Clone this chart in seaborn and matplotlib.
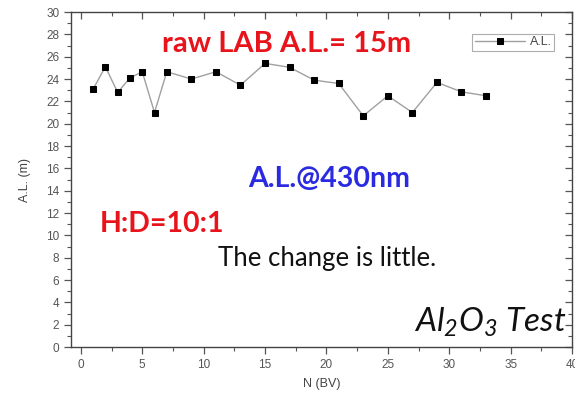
import matplotlib
matplotlib.use("Agg")
import matplotlib.pyplot as plt
from matplotlib.ticker import MultipleLocator
import numpy as np
import pandas as pd
import seaborn as sns

# Attenuation length measured against bed volumes
bed_volumes = [1, 2, 3, 4, 5, 6, 7, 9, 11, 13, 15, 17, 19, 21, 23, 25, 27, 29, 31, 33]
atten_length = [23.1, 25.1, 22.8, 24.1, 24.65, 21.0, 24.65, 24.0, 24.65, 23.45,
                25.4, 25.05, 23.9, 23.6, 20.7, 22.5, 21.0, 23.7, 22.85, 22.5]

df = pd.DataFrame({"N (BV)": bed_volumes, "A.L. (m)": atten_length})

sns.set_theme(style="white")
plt.rcParams["font.family"] = ["Liberation Sans", "DejaVu Sans"]
plt.rcParams["mathtext.default"] = "regular"

fig = plt.figure(figsize=(5.75, 3.98), dpi=100)
ax = fig.add_axes([0.1235, 0.128, 0.8713, 0.8418])

sns.lineplot(data=df, x="N (BV)", y="A.L. (m)", ax=ax, color="#a0a0a0",
             linewidth=1.0, marker="s", markersize=5, markerfacecolor="black",
             markeredgecolor="black", label="A.L.")

ax.set_xlim(-0.8, 40)
ax.set_ylim(0, 30)
ax.xaxis.set_major_locator(MultipleLocator(5))
ax.xaxis.set_minor_locator(MultipleLocator(2.5))
ax.yaxis.set_major_locator(MultipleLocator(2))
ax.yaxis.set_minor_locator(MultipleLocator(1))

axis_grey = "#555555"
for s in ax.spines.values():
    s.set_color("#444444")
    s.set_linewidth(1.0)
ax.tick_params(which="both", direction="out", colors=axis_grey, labelsize=8.5,
               bottom=True, left=True, top=False, right=False)
ax.tick_params(which="major", length=5, width=0.9)
ax.tick_params(which="minor", length=3, width=0.8)

# Mirrored inward ticks on the top and right edges
top = ax.secondary_xaxis("top")
top.xaxis.set_major_locator(MultipleLocator(5))
top.xaxis.set_minor_locator(MultipleLocator(2.5))
top.tick_params(which="both", direction="in", labeltop=False, colors=axis_grey)
top.tick_params(which="major", length=5, width=0.9)
top.tick_params(which="minor", length=3, width=0.8)
top.spines["top"].set_visible(False)
right = ax.secondary_yaxis("right")
right.yaxis.set_major_locator(MultipleLocator(2))
right.yaxis.set_minor_locator(MultipleLocator(1))
right.tick_params(which="both", direction="in", labelright=False, colors=axis_grey)
right.tick_params(which="major", length=5, width=0.9)
right.tick_params(which="minor", length=3, width=0.8)
right.spines["right"].set_visible(False)

ax.set_xlabel("N (BV)", fontsize=9, color="#444444", labelpad=5)
ax.set_ylabel("A.L. (m)", fontsize=9, color="#444444", labelpad=11)

leg = ax.legend(loc="upper right", bbox_to_anchor=(0.965, 0.935), fontsize=9,
                frameon=True, fancybox=False, handlelength=4.0, handletextpad=0.4,
                borderpad=0.2, borderaxespad=0, markerscale=0.8)
leg.get_frame().set_edgecolor("#999999")
leg.get_frame().set_linewidth(0.8)
for t in leg.get_texts():
    t.set_color("#444444")

label_font = ["Lato", "DejaVu Sans"]
ax.text(0.43, 0.881, "raw LAB A.L.= 15m", transform=ax.transAxes, ha="center",
        va="baseline", fontsize=21, fontweight="bold", color="#e8141c", family=label_font)
ax.text(0.515, 0.478, "A.L.@430nm", transform=ax.transAxes, ha="center",
        va="baseline", fontsize=20.5, fontweight="bold", color="#2a2ae0", family=label_font)
ax.text(0.058, 0.344, "H:D=10:1", transform=ax.transAxes, ha="left",
        va="baseline", fontsize=20.5, fontweight="bold", color="#e8141c", family=label_font)
ax.text(0.293, 0.242, "The change is little.", transform=ax.transAxes, ha="left",
        va="baseline", fontsize=18.5, color="#111111", family=label_font)
ax.text(0.99, 0.045, "Al$_2$O$_3$ Test", transform=ax.transAxes, ha="right",
        va="baseline", fontsize=24, style="italic", color="#111111", family=label_font)

fig.savefig("out.png", dpi=100)
